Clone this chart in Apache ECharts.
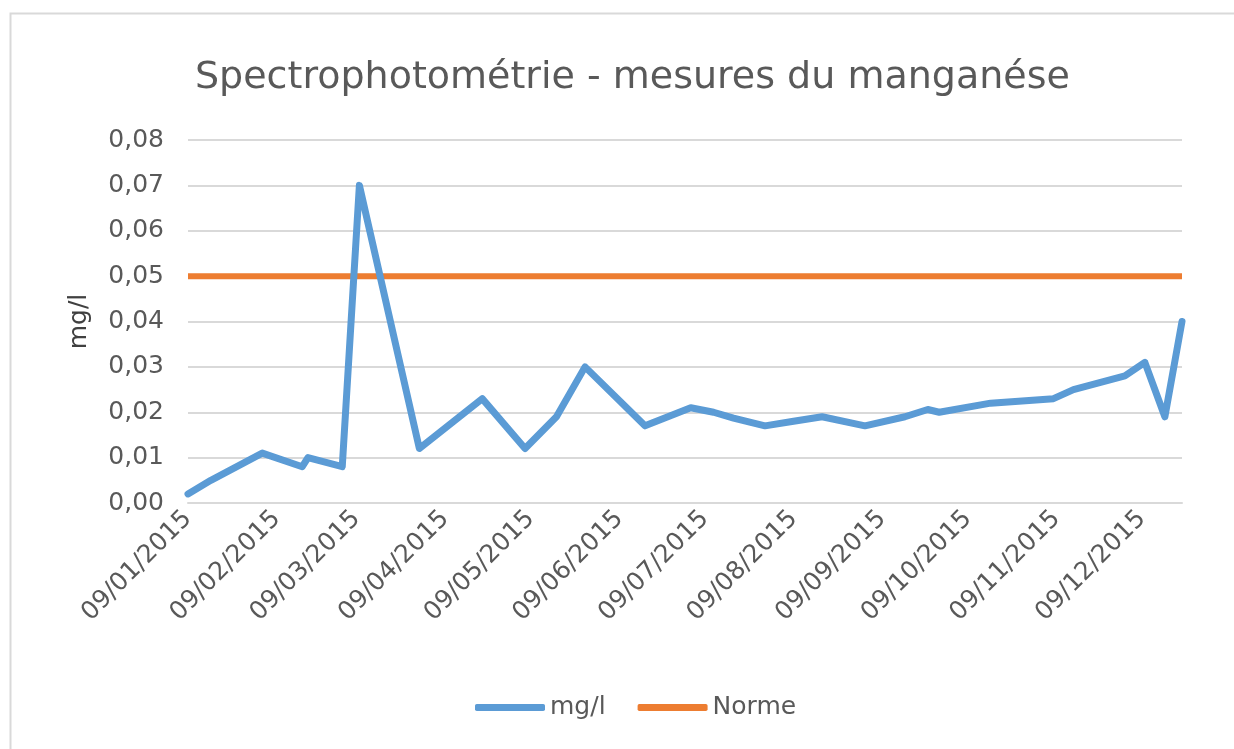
<!doctype html>
<html>
<head>
  <meta charset="utf-8">
  <script src="https://cdn.jsdelivr.net/npm/echarts@6/dist/echarts.min.js"></script>
  <style>
    html, body { margin: 0; padding: 0; background: #ffffff; }
    #chart { width: 1234px; height: 749px; }
  </style>
</head>
<body>
<div id="chart"></div>
<script type="text/javascript">
  // measurement dates and manganese values (mg/l)
  var dates = ['2015-01-09', '2015-01-17', '2015-02-04', '2015-02-18', '2015-02-20', '2015-03-04',
    '2015-03-10', '2015-03-31', '2015-04-22', '2015-05-07', '2015-05-18', '2015-05-28',
    '2015-06-18', '2015-07-04', '2015-07-12', '2015-07-19', '2015-07-30', '2015-08-09',
    '2015-08-19', '2015-09-03', '2015-09-17', '2015-09-25', '2015-09-29', '2015-10-17',
    '2015-11-08', '2015-11-15', '2015-12-03', '2015-12-10', '2015-12-17', '2015-12-23'];
  var values = [0.002, 0.005, 0.011, 0.008, 0.010, 0.008,
    0.070, 0.012, 0.023, 0.012, 0.019, 0.030,
    0.017, 0.021, 0.020, 0.0187, 0.017, 0.018,
    0.019, 0.017, 0.019, 0.0206, 0.020, 0.022,
    0.023, 0.025, 0.028, 0.031, 0.019, 0.040];

  // reference limit
  var normeDates = ['2015-01-09', '2015-12-23'];
  var normeValues = [0.05, 0.05];

  // x tick labels
  var tickDates = ['2015-01-09', '2015-02-09', '2015-03-09', '2015-04-09', '2015-05-09', '2015-06-09',
    '2015-07-09', '2015-08-09', '2015-09-09', '2015-10-09', '2015-11-09', '2015-12-09'];

  function toTime(s) {
    var p = s.split('-');
    return new Date(+p[0], +p[1] - 1, +p[2]).getTime();
  }
  function pad(n) { return n < 10 ? '0' + n : '' + n; }

  var font = 'DejaVu Sans';
  var mnData = dates.map(function (d, i) { return [toTime(d), values[i]]; });
  var normeData = normeDates.map(function (d, i) { return [toTime(d), normeValues[i]]; });

  var myChart = echarts.init(document.getElementById('chart'));
  var option = {
    backgroundColor: '#ffffff',
    animation: false,
    graphic: [{
      type: 'rect',
      shape: { x: 10.5, y: 13.5, width: 1260, height: 780 },
      style: { fill: 'none', stroke: '#d9d9d9', lineWidth: 2 },
      silent: true
    }],
    title: {
      text: 'Spectrophotométrie - mesures du manganése',
      left: 190,
      top: 54,
      textStyle: { fontFamily: font, fontSize: 38, fontWeight: 'normal', color: '#595959' }
    },
    legend: {
      left: 470,
      top: 690,
      icon: 'roundRect',
      itemWidth: 70,
      itemHeight: 7,
      itemGap: 32,
      textStyle: { fontFamily: font, fontSize: 25, color: '#595959' },
      data: ['mg/l', 'Norme']
    },
    grid: { left: 188, right: 52, top: 140, bottom: 246, containLabel: false },
    xAxis: {
      type: 'value',
      min: toTime('2015-01-09'),
      max: toTime('2015-12-23'),
      axisLine: { show: true, lineStyle: { color: '#d9d9d9', width: 2 } },
      axisTick: { show: false },
      splitLine: { show: false },
      axisLabel: {
        rotate: 45,
        margin: 12,
        fontFamily: font,
        fontSize: 25,
        color: '#595959',
        customValues: tickDates.map(toTime),
        formatter: function (v) {
          var d = new Date(v);
          return pad(d.getDate()) + '/' + pad(d.getMonth() + 1) + '/' + d.getFullYear();
        }
      }
    },
    yAxis: {
      type: 'value',
      min: 0,
      max: 0.08,
      interval: 0.01,
      name: 'mg/l',
      nameLocation: 'middle',
      nameGap: 96,
      nameTextStyle: { fontFamily: font, fontSize: 25, color: '#404040' },
      axisLine: { show: false },
      axisTick: { show: false },
      splitLine: { lineStyle: { color: '#d9d9d9', width: 2 } },
      axisLabel: {
        margin: 24,
        fontFamily: font,
        fontSize: 25,
        color: '#595959',
        formatter: function (v) { return v.toFixed(2).replace('.', ','); }
      }
    },
    series: [
      {
        name: 'mg/l',
        type: 'line',
        data: mnData,
        showSymbol: false,
        color: '#5b9bd5',
        lineStyle: { color: '#5b9bd5', width: 7, cap: 'round', join: 'round' },
        z: 3
      },
      {
        name: 'Norme',
        type: 'line',
        data: normeData,
        showSymbol: false,
        color: '#ed7d31',
        lineStyle: { color: '#ed7d31', width: 6 },
        z: 2
      }
    ]
  };
  myChart.setOption(option);
</script>
</body>
</html>
